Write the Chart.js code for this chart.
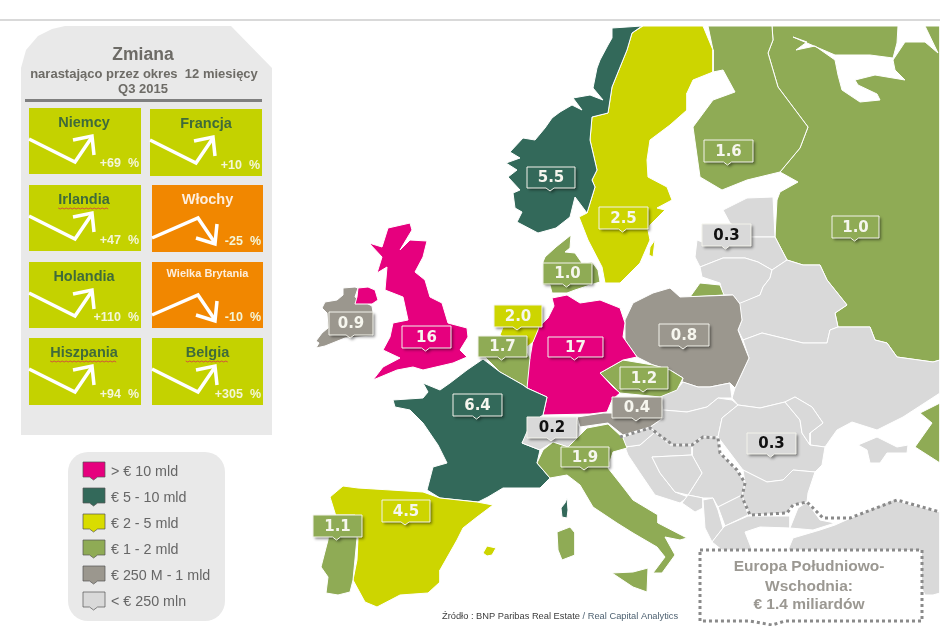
<!DOCTYPE html>
<html><head><meta charset="utf-8">
<style>html,body{margin:0;padding:0;background:#fff}canvas{display:block}</style>
<script src="https://cdn.jsdelivr.net/npm/chart.js@4"></script></head>
<body><canvas id="c" width="940" height="626"></canvas>
<script>
// ---- values ----
const tagLabels=['16','17','0.9','2.0','1.7','1.0','6.4','5.5','2.5','1.6','0.3','1.0','0.8','1.2','0.4','0.3','0.2','1.9','4.5','1.1'];
const tagColours=['#e6007e','#e6007e','#9b978e','#cdd500','#8fab55','#8fab55','#33695a','#33695a','#cdd500','#8fab55','#d9d9d9','#8fab55','#9b978e','#8fab55','#9b978e','#d9d9d9','#d9d9d9','#8fab55','#cdd500','#8fab55'];
const cardNames=['Niemcy','Francja','Irlandia','Włochy','Holandia','Wielka Brytania','Hiszpania','Belgia'];
const cardChanges=[69,10,47,-25,110,-10,94,305];
const legendLabels=['> € 10 mld','€ 5 - 10 mld','€ 2 - 5 mld','€ 1 - 2 mld','€ 250 M - 1 mld','< € 250 mln'];
const legendColours=['#e6007e','#33695a','#d9dc00','#8fab55','#9b978e','#d9d9d9'];

// ---- map outlines, in map units ----
const ireland=[[343,288],[355,287],[358,288],[355,297],[372,306],[373,312],[373,336],[345,338],[325,346],[316,348],[319,343],[316,341],[322,333],[328,328],[327,313],[322,308],[325,302],[337,300],[343,295]];
const nIreland=[[358,288],[368,287],[375,290],[378,300],[372,304],[355,304],[357,297]];
const britain=[[388,228],[410,223],[412,230],[400,250],[410,240],[427,241],[423,257],[415,272],[425,280],[430,297],[442,303],[448,323],[467,328],[468,337],[460,350],[467,357],[453,363],[423,370],[413,367],[397,370],[373,380],[383,367],[400,358],[383,350],[390,337],[393,323],[408,320],[403,297],[385,290],[387,267],[377,273],[382,257],[369,243],[382,247]];
const france=[[483,359],[500,372],[523,385],[527,388],[547,397],[543,415],[540,417],[522,443],[540,450],[537,463],[550,478],[540,488],[503,488],[488,497],[478,502],[440,498],[427,490],[433,467],[447,463],[438,445],[423,423],[410,410],[395,407],[393,400],[423,398],[428,392],[423,383],[440,390],[450,383],[467,370]];
const corsica=[[567,498],[568,510],[567,518],[562,517],[561,508],[565,503]];
const switzerland=[[530,425],[575,420],[580,427],[578,440],[568,447],[553,442],[540,450],[522,443]];
const germany=[[552,298],[567,295],[580,303],[600,300],[620,308],[625,323],[623,337],[637,357],[623,360],[600,373],[613,387],[620,393],[612,400],[607,412],[590,414],[543,415],[547,397],[527,388],[525,372],[530,358],[533,340],[538,328],[548,318],[554,306]];
const netherlands=[[505,322],[540,322],[538,330],[533,342],[527,347],[510,342],[500,335]];
const belgium=[[483,355],[525,347],[530,358],[527,388],[523,385],[500,372]];
const denmark=[[545,257],[556,247],[571,235],[570,248],[565,252],[575,253],[582,263],[592,262],[598,270],[600,282],[590,285],[575,290],[567,293],[552,293],[550,285],[543,285],[543,262]];
const norway=[[612,28],[642,26],[632,33],[627,50],[612,87],[608,113],[592,117],[590,140],[597,170],[592,180],[595,187],[587,213],[575,197],[570,217],[556,228],[538,233],[517,222],[522,212],[515,208],[513,193],[520,190],[508,177],[517,170],[506,163],[520,158],[510,152],[523,138],[535,140],[545,128],[552,118],[560,112],[572,105],[582,110],[573,98],[590,95],[603,100],[593,88],[597,68],[600,60],[608,45],[612,38]];
const sweden=[[643,26],[703,26],[713,50],[713,72],[693,80],[687,93],[687,110],[670,125],[650,140],[647,160],[648,177],[667,187],[672,200],[657,208],[665,210],[650,225],[648,230],[650,240],[640,263],[620,283],[605,283],[602,267],[588,240],[579,217],[587,213],[595,187],[592,180],[597,170],[590,140],[592,117],[608,113],[612,87],[627,50],[632,33]];
const gotland=[[650,247],[655,240],[653,257],[649,255]];
const finland=[[708,26],[772,26],[773,40],[768,53],[778,87],[793,107],[808,127],[800,148],[780,172],[747,180],[722,190],[700,177],[693,127],[713,100],[735,92],[723,70],[713,72],[713,50]];
const russia=[[772,26],[940,26],[940,360],[933,362],[897,357],[887,343],[875,340],[870,327],[838,327],[835,313],[847,305],[827,280],[820,265],[803,265],[787,260],[775,237],[777,200],[780,192],[798,182],[780,172],[800,148],[808,127],[793,107],[778,87],[768,53],[773,40]];
const whiteSea=[[793,37],[807,42],[796,50],[815,46],[835,60],[838,75],[842,90],[860,102],[880,100],[877,94],[858,85],[855,80],[875,75],[905,80],[895,70],[893,60],[905,42],[925,42],[938,53],[925,26],[898,26],[897,43],[893,58],[870,55],[835,55]];
const caucasus=[[920,413],[940,403],[940,463],[915,447],[932,423]];
const estonia=[[723,210],[747,198],[773,197],[775,237],[750,237],[730,223]];
const latvia=[[697,240],[710,245],[750,237],[775,237],[787,260],[772,270],[758,262],[745,258],[723,258],[700,267],[695,257]];
const lithuania=[[700,267],[723,258],[745,258],[758,262],[772,270],[770,278],[763,287],[760,295],[740,304],[733,295],[723,295],[720,283],[702,277]];
const kaliningrad=[[690,297],[700,283],[720,285],[724,295]];
const belarus=[[787,260],[803,265],[820,265],[827,280],[847,305],[835,313],[838,327],[830,330],[827,343],[803,343],[762,333],[743,340],[738,330],[742,320],[738,304],[760,295],[763,287],[770,278],[772,270]];
const poland=[[625,320],[633,303],[653,293],[670,288],[680,297],[733,295],[740,304],[742,320],[738,330],[743,343],[749,358],[735,388],[730,383],[710,387],[698,387],[682,382],[683,378],[670,370],[653,365],[637,357],[625,340]];
const czechia=[[600,373],[623,360],[653,365],[670,370],[683,378],[677,390],[660,397],[620,393]];
const slovakia=[[678,388],[683,382],[698,387],[710,387],[730,383],[732,398],[718,398],[707,407],[687,412],[663,410],[660,397]];
const hungary=[[663,410],[687,412],[707,407],[718,398],[732,400],[738,405],[722,418],[718,437],[702,437],[692,445],[670,445],[655,432],[650,427],[663,418]];
const austria=[[577,417],[603,413],[612,413],[612,398],[660,398],[663,418],[650,427],[623,435],[613,427],[608,423],[580,427]];
const slovenia=[[623,437],[650,427],[655,432],[640,445],[625,447]];
const croatia=[[625,447],[640,445],[655,432],[670,445],[692,445],[692,455],[652,457],[660,473],[675,492],[688,497],[680,503],[655,495],[640,473],[628,455]];
const bosnia=[[652,457],[692,455],[702,473],[688,495],[675,492],[660,473]];
const serbia=[[692,445],[702,437],[718,437],[720,453],[737,470],[745,483],[742,495],[718,507],[713,498],[703,498],[688,495],[702,473],[692,455]];
const montenegro=[[688,495],[703,498],[703,508],[695,512],[682,503]];
const albania=[[703,500],[713,498],[718,510],[723,528],[712,542],[705,528]];
const macedonia=[[718,507],[742,495],[748,515],[725,526]];
const greece=[[723,528],[725,526],[748,516],[790,516],[790,528],[760,527],[745,532],[752,550],[722,550],[712,542]];
const bulgaria=[[743,470],[767,482],[783,480],[793,470],[815,472],[808,493],[807,502],[793,505],[787,513],[750,515],[742,497],[745,483]];
const romania=[[722,418],[738,405],[760,408],[785,402],[800,420],[802,433],[810,445],[825,447],[822,465],[815,472],[793,470],[783,480],[767,482],[743,470],[718,437]];
const moldova=[[785,402],[795,397],[812,407],[823,423],[810,433],[810,445],[802,433],[800,420]];
const ukraine=[[743,340],[762,333],[803,343],[827,343],[830,330],[838,327],[870,327],[875,340],[887,343],[897,357],[933,362],[940,360],[940,393],[903,417],[877,430],[852,422],[837,430],[832,437],[825,447],[810,445],[810,433],[823,423],[812,407],[795,397],[785,402],[760,408],[738,405],[732,398],[735,388],[749,358]];
const crimea=[[858,445],[877,437],[897,447],[908,445],[907,453],[887,453],[880,463],[870,463],[867,450]];
const thrace=[[790,528],[798,508],[807,502],[820,520],[835,523],[813,530]];
const turkey=[[788,550],[793,538],[820,530],[835,525],[853,517],[893,500],[940,512],[940,593],[933,595],[925,595],[920,585],[900,550]];
const italy=[[537,463],[543,450],[553,442],[568,447],[587,428],[608,424],[623,438],[627,448],[613,452],[608,468],[623,487],[633,500],[658,515],[658,523],[687,538],[680,540],[665,537],[675,555],[662,573],[653,573],[665,557],[657,547],[633,533],[617,523],[593,507],[580,485],[567,475],[550,478]];
const sardinia=[[557,532],[570,527],[575,533],[575,555],[562,560],[558,550]];
const sicily=[[612,573],[633,572],[648,568],[647,592],[633,587]];
const spain=[[330,497],[343,486],[358,488],[423,492],[440,498],[477,502],[493,505],[477,517],[463,528],[457,540],[440,570],[440,582],[428,593],[400,595],[377,607],[365,602],[353,580],[357,560],[358,538],[340,533],[335,513]];
const portugal=[[330,515],[355,515],[357,538],[353,580],[350,592],[338,595],[326,593],[328,577],[321,567],[328,540]];
const balearic=[[483,553],[487,546],[496,548],[492,555],[487,556]];
const southEastBorder=[[620,437],[650,428],[673,445],[692,445],[703,437],[718,438],[720,453],[737,470],[745,483],[742,497],[750,515],[787,513],[793,505],[807,502],[823,518],[850,518],[897,500],[940,512]];

const C={pink:'#e6007e',dark:'#33695a',yellow:'#cdd500',green:'#8fab55',grey:'#9b978e',light:'#d9d9d9'};
const regions=[
 [russia,C.green],[whiteSea,'#ffffff'],[caucasus,C.green],[finland,C.green],[sweden,C.yellow],[gotland,C.yellow],[norway,C.dark],
 [estonia,C.light],[latvia,C.light],[lithuania,C.light],[belarus,C.light],[ukraine,C.light],[crimea,C.light],[kaliningrad,C.green],
 [poland,C.grey],[slovakia,C.light],[hungary,C.light],[romania,C.light],[moldova,C.light],[bulgaria,C.light],[serbia,C.light],[croatia,C.light],[bosnia,C.light],[slovenia,C.light],[montenegro,C.light],[albania,C.light],[macedonia,C.light],[greece,C.light],[thrace,C.light],[turkey,C.light],
 [denmark,C.green],[austria,C.grey],[czechia,C.green],[germany,C.pink],[belgium,C.green],[netherlands,C.yellow],[france,C.dark],[corsica,C.dark],[switzerland,C.light],[italy,C.green],[sardinia,C.green],[sicily,C.green],
 [spain,C.yellow],[portugal,C.green],[balearic,C.yellow],[ireland,C.grey],[nIreland,C.pink],[britain,C.pink]
];

// ---- layout ----
const tagBoxes=[[402,326,49,22],[548,337,55,20],[329,312,44,23],[494,305,48,22],[478,336,49,21],[543,263,49,21],[453,394,49,22],[527,167,48,21],[599,207,49,22],[704,140,49,22],[702,224,49,22],[832,216,47,22],[659,324,50,22],[620,367,48,22],[612,397,50,21],[747,433,49,21],[527,417,50,21],[561,447,48,20],[382,500,48,22],[313,515,49,22]];
const cardBoxes=[[29,108,112,66],[150,109,112,67],[29,185,112,66],[152,185,111,67],[29,262,112,66],[152,262,111,66],[29,338,112,67],[152,338,111,67]];
const spellMarked=['Irlandia','Hiszpania','Belgia'];
const panelShape=[[21,68],[26,50],[38,36],[52,29],[65,26],[231,26],[272,68],[272,435],[21,435]];
const upArrow=[[0,31],[46,54],[63,29]], upHead=[[44,32],[63,28],[65,47]];
const downArrow=[[0,53],[46,33],[63,58]], downHead=[[44,53],[63,59],[65,39]];

const toPts=a=>a.map(p=>({x:p[0],y:p[1]}));
const base={showLine:true,pointRadius:0,pointHoverRadius:0,tension:0,fill:false};
let datasets=[];
const addPoly=(name,pts,col,noBorder)=>datasets.push({...base,label:name,data:toPts([...pts,pts[0]]),polygonFill:col,borderColor:noBorder?col:'#ffffff',borderWidth:noBorder?0:1});
addPoly('panel',panelShape,'#e9e9e9',true);
cardBoxes.forEach((b,i)=>{
  const col=cardChanges[i]<0?'#f18700':'#c4d200';
  addPoly(cardNames[i],[[b[0],b[1]],[b[0]+b[2],b[1]],[b[0]+b[2],b[1]+b[3]],[b[0],b[1]+b[3]]],col,true);
  const up=cardChanges[i]>=0;
  for(const shape of (up?[upArrow,upHead]:[downArrow,downHead]))
    datasets.push({...base,label:cardNames[i]+' arrow',data:toPts(shape.map(p=>[p[0]+b[0],p[1]+b[1]])),borderColor:'#ffffff',borderWidth:3.5});
});
regions.forEach((r,i)=>addPoly('region'+i,r[0],r[1],false));
datasets.push({...base,label:'Europa Południowo-Wschodnia',data:toPts(southEastBorder),borderColor:'#8a8a8a',borderWidth:3,borderDash:[3,3]});
datasets.forEach((d,i)=>d.order=datasets.length-i);

// fills each closed outline from the points the scales have placed
const polygonFill={id:'polygonFill',beforeDatasetDraw(chart,args){
  const ds=chart.data.datasets[args.index];
  if(!ds.polygonFill)return;
  const ctx=chart.ctx,pts=args.meta.data;
  ctx.save();ctx.beginPath();
  pts.forEach((p,i)=>i?ctx.lineTo(p.x,p.y):ctx.moveTo(p.x,p.y));
  ctx.closePath();ctx.fillStyle=ds.polygonFill;ctx.fill();ctx.restore();
}};

function tagPath(ctx,x,y,w,h){
  const nx=x+w*0.48;
  ctx.beginPath();ctx.moveTo(x,y);ctx.lineTo(x+w,y);ctx.lineTo(x+w,y+h);ctx.lineTo(nx+4,y+h);ctx.lineTo(nx,y+h+3);ctx.lineTo(nx-4,y+h);ctx.lineTo(x,y+h);ctx.closePath();
}
const overlay={id:'overlay',afterDatasetsDraw(chart){
  const ctx=chart.ctx,sx=chart.scales.x,sy=chart.scales.y;
  const X=v=>sx.getPixelForValue(v),Y=v=>sy.getPixelForValue(v);
  ctx.save();ctx.textBaseline='middle';
  ctx.fillStyle='#d9d9d9';ctx.fillRect(0,19,940,2);
  ctx.textAlign='center';ctx.fillStyle='#6d6b66';
  ctx.font='bold 17.5px "Liberation Sans"';ctx.fillText('Zmiana',X(143),Y(55));
  ctx.font='bold 13px "Liberation Sans"';ctx.fillText('narastająco przez okres  12 miesięcy',X(144),Y(74));
  ctx.fillText('Q3 2015',X(143),Y(89));
  ctx.fillStyle='#7f7f7f';ctx.fillRect(X(25),Y(99),237,3);
  cardNames.forEach((n,i)=>{
    const b=cardBoxes[i],neg=cardChanges[i]<0,cx=b[0]+b[2]*0.5-(i%2?0:1);
    ctx.textAlign='center';
    ctx.fillStyle=neg?'#fdeedd':'#3f6b3a';
    ctx.font=n==='Wielka Brytania'?'bold 11px "Liberation Sans"':'bold 14.5px "Liberation Sans"';
    const ny=b[1]+(n==='Wielka Brytania'?12:15);
    ctx.fillText(n,X(cx),Y(ny));
    if(spellMarked.includes(n)){
      const w=ctx.measureText(n).width;ctx.strokeStyle='#d2533a';ctx.lineWidth=1;ctx.beginPath();
      for(let k=0;k<=w;k+=2){const px=X(cx)-w/2+k,py=Y(ny+8)+(k%4?1:0);k?ctx.lineTo(px,py):ctx.moveTo(px,py);}
      ctx.stroke();
    }
    ctx.textAlign='right';ctx.fillStyle='#f4f6d8';ctx.font='bold 12.5px "Liberation Sans"';
    const v=cardChanges[i];
    ctx.fillText((v>0?'+':'')+v+'  %',X(b[0]+b[2]-2),Y(b[1]+b[3]-10));
  });
  ctx.fillStyle='#e9e9e9';ctx.beginPath();ctx.roundRect(X(68),Y(452),157,169,20);ctx.fill();
  legendLabels.forEach((l,i)=>{
    const y=462+i*26;
    tagPath(ctx,X(83),Y(y),22,15);
    ctx.fillStyle=legendColours[i];ctx.fill();
    ctx.strokeStyle='#555';ctx.lineWidth=0.7;ctx.stroke();
    ctx.textAlign='left';ctx.fillStyle='#666666';ctx.font='14.3px "Liberation Sans"';
    ctx.fillText(l,X(111),Y(y+10));
  });
  tagLabels.forEach((t,i)=>{
    const b=tagBoxes[i],light=tagColours[i]==='#d9d9d9';
    ctx.save();ctx.shadowColor='rgba(0,0,0,0.45)';ctx.shadowBlur=3;ctx.shadowOffsetX=2;ctx.shadowOffsetY=2;
    tagPath(ctx,X(b[0]),Y(b[1]),b[2],b[3]);ctx.fillStyle=tagColours[i];ctx.fill();ctx.restore();
    tagPath(ctx,X(b[0]),Y(b[1]),b[2],b[3]);ctx.strokeStyle='#f4f4ec';ctx.lineWidth=1;ctx.stroke();
    ctx.textAlign='center';ctx.fillStyle=light?'#111111':'#f6f6ee';ctx.font='bold 15px "DejaVu Sans"';
    ctx.fillText(t,X(b[0]+b[2]/2),Y(b[1]+b[3]/2+1));
  });
  ctx.fillStyle='#ffffff';ctx.fillRect(X(700),Y(550),222,71);
  ctx.strokeStyle='#8a8a8a';ctx.lineWidth=3;ctx.setLineDash([3,3]);
  ctx.beginPath();ctx.moveTo(X(700),Y(550));ctx.lineTo(X(922),Y(550));ctx.lineTo(X(922),Y(621));ctx.lineTo(X(785),Y(621));ctx.lineTo(X(772),Y(625));ctx.lineTo(X(750),Y(621));ctx.lineTo(X(700),Y(621));ctx.closePath();ctx.stroke();ctx.setLineDash([]);
  ctx.textAlign='center';ctx.fillStyle='#9b9892';ctx.font='bold 15.5px "Liberation Sans"';
  ctx.fillText('Europa Południowo-',X(809),Y(567));
  ctx.fillText('Wschodnia:',X(809),Y(587));
  ctx.fillText('€ 1.4 miliardów',X(809),Y(605));
  ctx.textAlign='left';ctx.font='9.3px "Liberation Sans"';ctx.fillStyle='#3c3c3c';
  const s1='Źródło : BNP Paribas Real Estate ';ctx.fillText(s1,X(442),Y(616));
  const w1=ctx.measureText(s1).width;ctx.fillStyle='#4f6272';ctx.fillText('/ Real Capital Analytics',X(442)+w1,Y(616));
  ctx.restore();
}};
new Chart(document.getElementById('c'),{type:'scatter',data:{datasets},plugins:[polygonFill,overlay],options:{
  responsive:false,animation:false,events:[],layout:{padding:0},
  plugins:{legend:{display:false},tooltip:{enabled:false},title:{display:false}},
  scales:{x:{type:'linear',min:0,max:940,display:false},y:{type:'linear',min:0,max:626,reverse:true,display:false}}
}});
</script></body></html>
